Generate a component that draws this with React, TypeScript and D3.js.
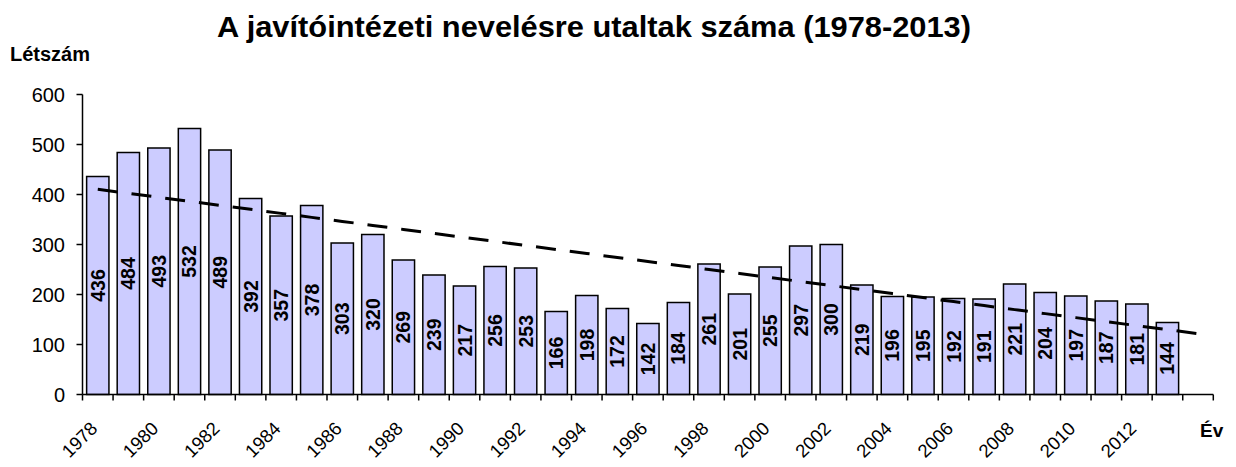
import React from "react";
import * as d3 from "d3";

const years = [
  1978, 1979, 1980, 1981, 1982, 1983, 1984, 1985, 1986, 1987, 1988, 1989,
  1990, 1991, 1992, 1993, 1994, 1995, 1996, 1997, 1998, 1999, 2000, 2001,
  2002, 2003, 2004, 2005, 2006, 2007, 2008, 2009, 2010, 2011, 2012, 2013,
];
const counts = [
  436, 484, 493, 532, 489, 392, 357, 378, 303, 320, 269, 239, 217, 256, 253,
  166, 198, 172, 142, 184, 261, 201, 255, 297, 300, 219, 196, 195, 192, 191,
  221, 204, 197, 187, 181, 144,
];
// one empty category after the data, the trend line is forecast into it
const categories = [...years, 2014];
const yTicks = [0, 100, 200, 300, 400, 500, 600];
const xTickLabels = [1978, 1980, 1982, 1984, 1986, 1988, 1990, 1992, 1994, 1996, 1998, 2000, 2002, 2004, 2006, 2008, 2010, 2012];

const title = "A javítóintézeti nevelésre utaltak száma (1978-2013)";
const font = "'Liberation Sans', Arial, sans-serif";

const App = () => {
  const width = 1236;
  const height = 467;
  const left = 82.5;
  const right = 1213.3;
  const top = 94.5;
  const bottom = 394.5;

  const x = d3
    .scaleBand<number>()
    .domain(categories)
    .range([left, right])
    .paddingInner(0.27)
    .paddingOuter(0.135);
  const y = d3.scaleLinear().domain([0, 600]).range([bottom, top]);
  const step = x.step();
  const cx = (yr: number) => (x(yr) as number) + x.bandwidth() / 2;

  // linear least squares trend, like the spreadsheet's trendline
  const n = counts.length;
  const idx = d3.range(n);
  const mx = d3.mean(idx) as number;
  const my = d3.mean(counts) as number;
  const slope =
    d3.sum(idx, (i) => (i - mx) * (counts[i] - my)) /
    d3.sum(idx, (i) => (i - mx) * (i - mx));
  const icpt = my - slope * mx;
  const trend = d3
    .line<number>()
    .x((i) => cx(categories[i]))
    .y((i) => y(icpt + slope * i));

  return (
    <svg
      width={width}
      height={height}
      style={{ position: "absolute", left: 0, top: 0, background: "#fff" }}
      fontFamily={font}
    >
      <text
        x={217}
        y={37}
        fontSize={29}
        fontWeight="bold"
        textLength={754}
        lengthAdjust="spacingAndGlyphs"
      >
        {title}
      </text>
      <text x={10} y={61} fontSize={20} fontWeight="bold">
        Létszám
      </text>
      <text x={1200} y={437} fontSize={19} fontWeight="bold">
        Év
      </text>

      {counts.map((v, i) => (
        <rect
          key={years[i]}
          x={x(years[i])}
          y={y(v)}
          width={x.bandwidth()}
          height={bottom - y(v)}
          fill="#CCCCFF"
          stroke="#000"
          strokeWidth={1.5}
        />
      ))}

      <path
        d={trend(d3.range(categories.length)) as string}
        fill="none"
        stroke="#000"
        strokeWidth={3}
        strokeDasharray="20 14"
      />

      {counts.map((v, i) => (
        <text
          key={"l" + years[i]}
          transform={`translate(${cx(years[i])},${y(v / 2)}) rotate(-90)`}
          textAnchor="middle"
          dy="0.36em"
          fontSize={19.5}
          fontWeight="bold"
        >
          {v}
        </text>
      ))}

      {/* axes */}
      <line x1={left} x2={left} y1={top} y2={bottom} stroke="#000" strokeWidth={1.5} />
      <line x1={left} x2={right} y1={bottom} y2={bottom} stroke="#000" strokeWidth={1.5} />
      {yTicks.map((t) => (
        <g key={"y" + t}>
          <line x1={left - 6} x2={left} y1={y(t)} y2={y(t)} stroke="#000" strokeWidth={1.5} />
          <text x={65} y={y(t)} dy="0.36em" textAnchor="end" fontSize={20}>
            {t}
          </text>
        </g>
      ))}
      {d3.range(categories.length + 1).map((i) => (
        <line
          key={"xt" + i}
          x1={left + i * step}
          x2={left + i * step}
          y1={bottom}
          y2={bottom + 6}
          stroke="#000"
          strokeWidth={1.5}
        />
      ))}
      {xTickLabels.map((yr) => (
        <text
          key={"xl" + yr}
          transform={`translate(${cx(yr) - 4},${425}) rotate(-45)`}
          textAnchor="end"
          dy="0.36em"
          fontSize={18.5}
        >
          {yr}
        </text>
      ))}
    </svg>
  );
};

export default App;
